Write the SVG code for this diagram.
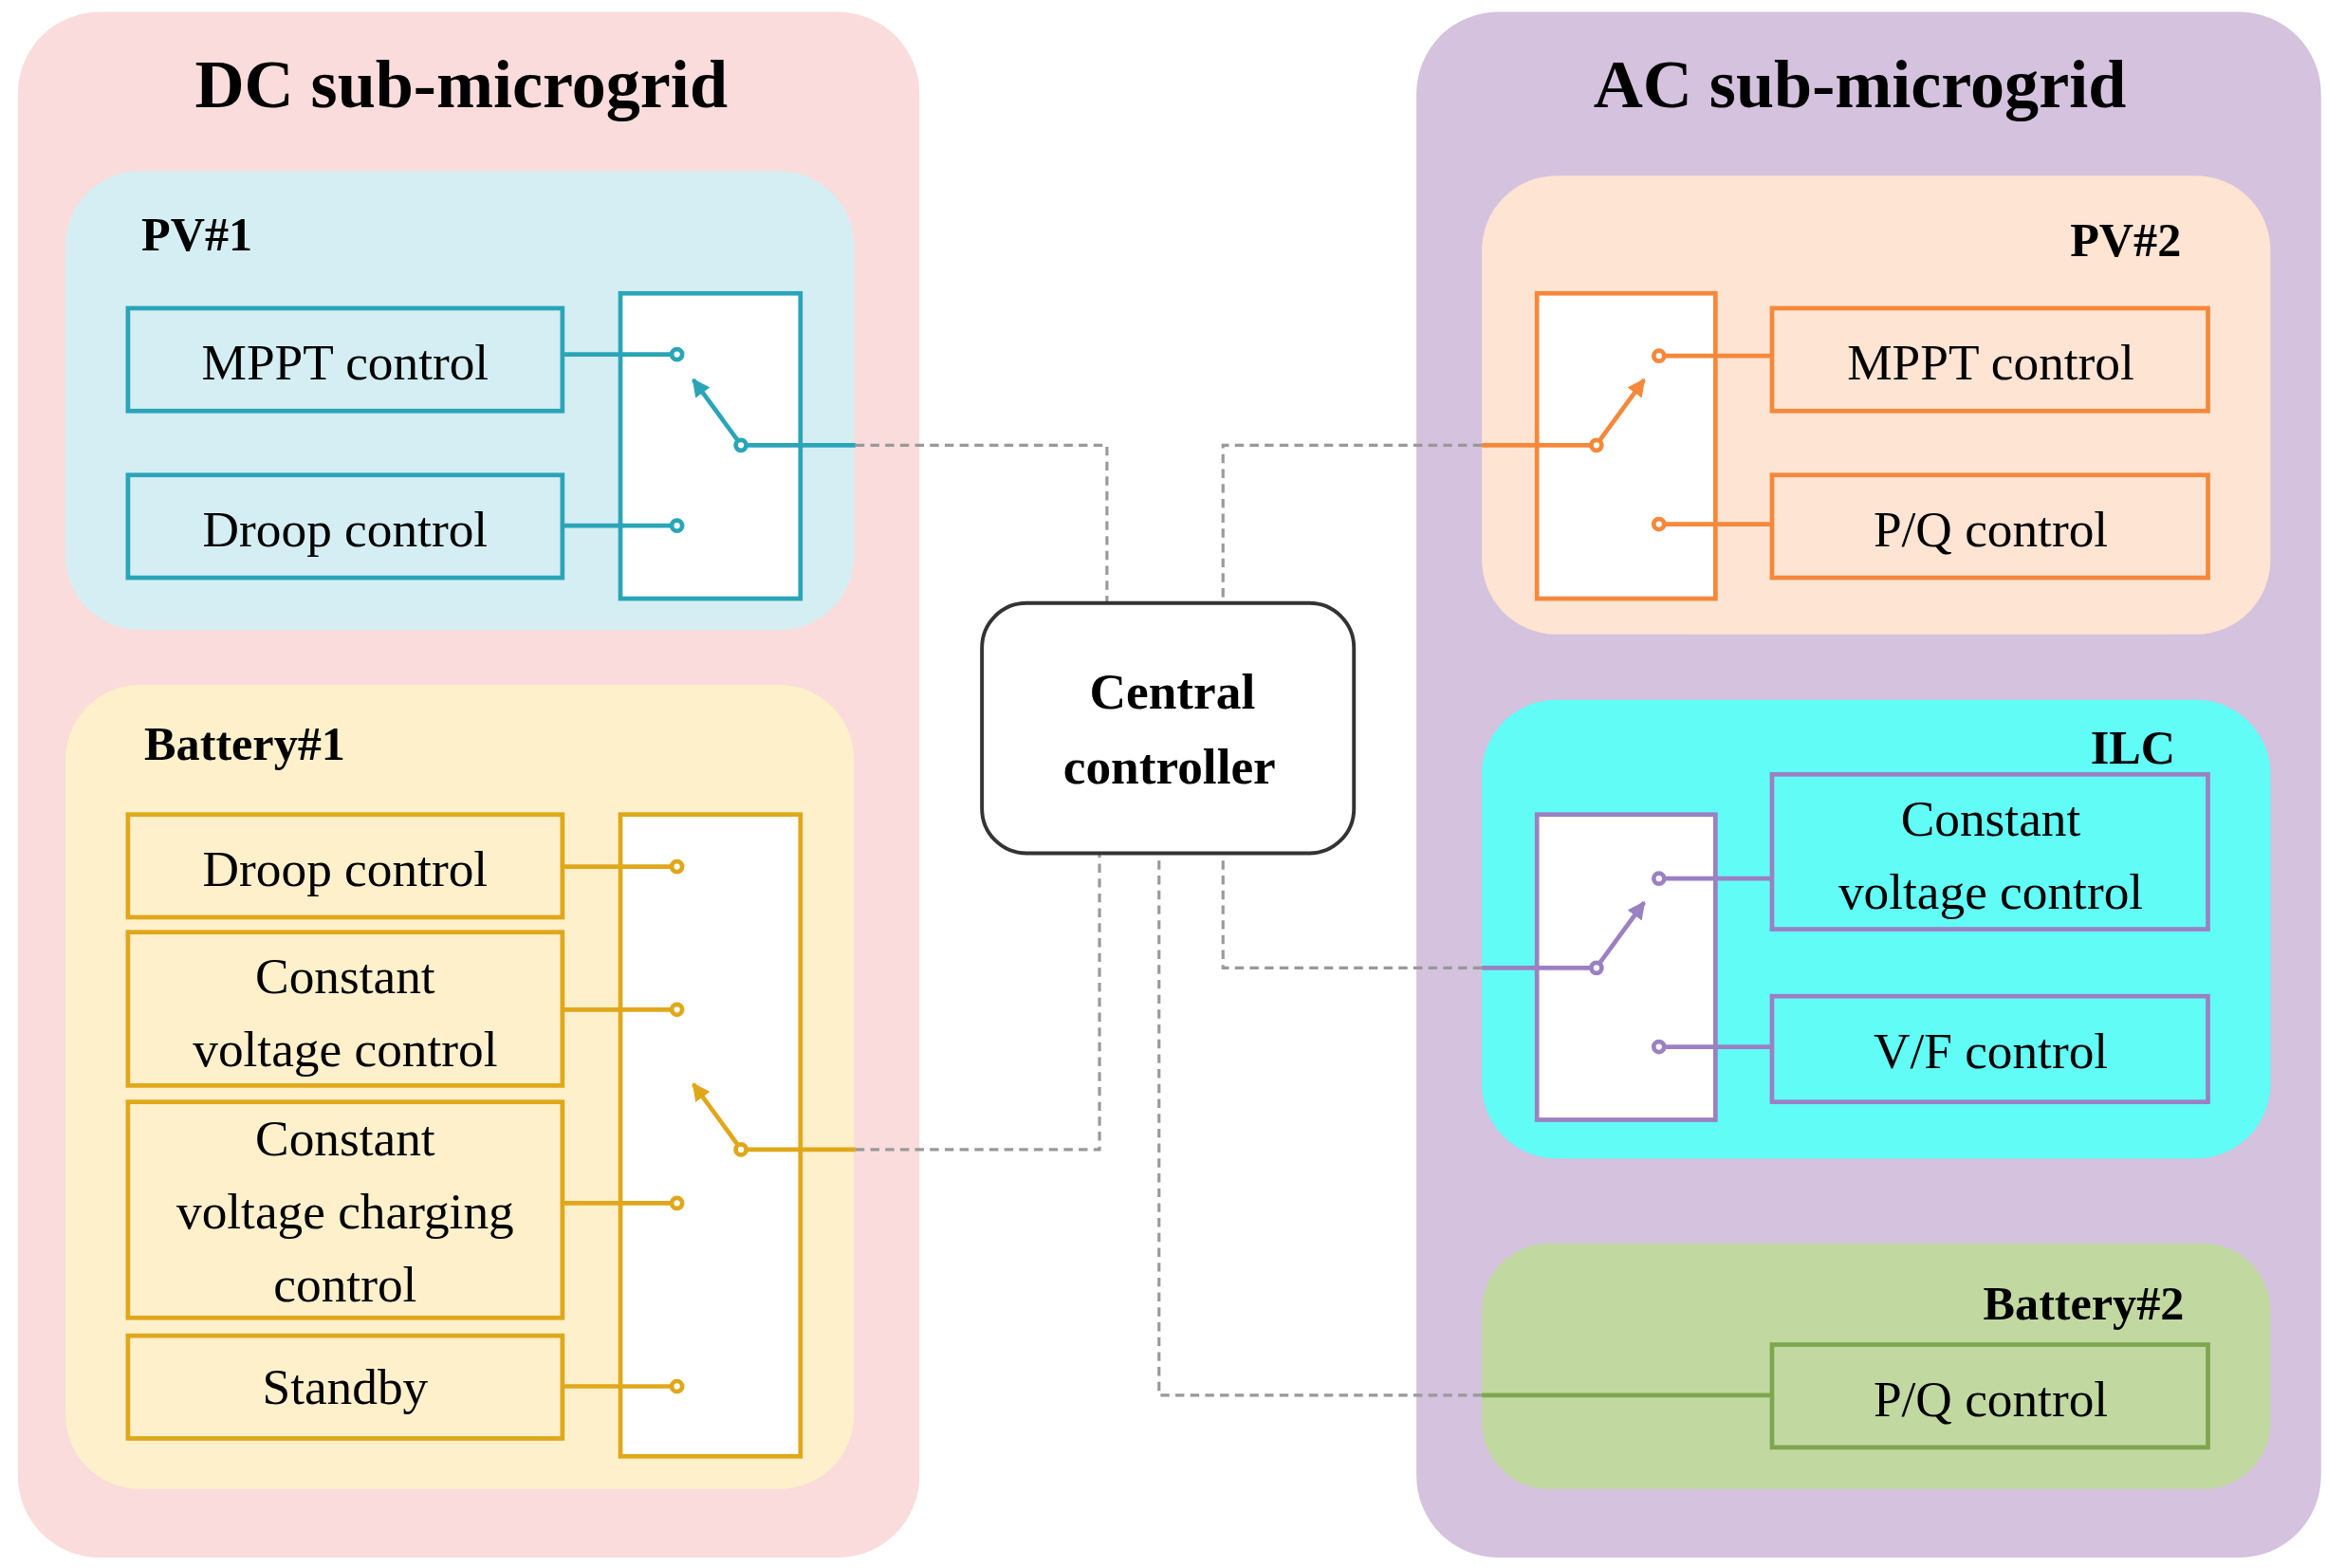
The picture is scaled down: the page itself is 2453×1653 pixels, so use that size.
<svg xmlns="http://www.w3.org/2000/svg" width="2453" height="1653" viewBox="0 0 2453 1653">
<defs>
<style>
text{font-family:"Liberation Serif","DejaVu Serif",serif;fill:#000}
.t{font-size:46px;font-weight:bold;text-anchor:middle}
.l{font-size:32px;font-weight:bold}
.b{font-size:34px;text-anchor:middle}
.d{fill:none;stroke:#999;stroke-width:2;stroke-dasharray:6,4}
.teal{stroke:#2aa5b8;stroke-width:3}
.or{stroke:#f5883a;stroke-width:3}
.go{stroke:#e0a71a;stroke-width:3}
.pu{stroke:#9b80c2;stroke-width:3}
.gr{stroke:#7ea64f;stroke-width:3}
</style>
<marker id="at" viewBox="0 0 10 10" refX="9" refY="5" markerWidth="4" markerHeight="4" orient="auto"><path d="M0,0L10,5L0,10z" fill="#2aa5b8"/></marker>
<marker id="ao" viewBox="0 0 10 10" refX="9" refY="5" markerWidth="4" markerHeight="4" orient="auto"><path d="M0,0L10,5L0,10z" fill="#f5883a"/></marker>
<marker id="ag" viewBox="0 0 10 10" refX="9" refY="5" markerWidth="4" markerHeight="4" orient="auto"><path d="M0,0L10,5L0,10z" fill="#e0a71a"/></marker>
<marker id="ap" viewBox="0 0 10 10" refX="9" refY="5" markerWidth="4" markerHeight="4" orient="auto"><path d="M0,0L10,5L0,10z" fill="#9b80c2"/></marker>
</defs>
<g transform="scale(1.5684,1.5698)" font-family="Liberation Serif, DejaVu Serif, serif">
<g id="dc">
<rect x="12" y="8" width="606" height="1038" rx="55" fill="#f9dcdb"/>
<text class="t" x="310" y="72">DC sub-microgrid</text>
</g>
<g id="ac">
<rect x="952" y="8" width="608" height="1038" rx="55" fill="#d4c2de"/>
<text class="t" x="1250" y="72">AC sub-microgrid</text>
</g>
<g id="pv1">
<rect x="44" y="115" width="530" height="308" rx="50" fill="#d5eef3"/>
<text class="l" x="95" y="168">PV#1</text>
<rect x="86" y="207" width="292" height="69" fill="none" class="teal"/>
<text class="b" x="232" y="255">MPPT control</text>
<rect x="86" y="319" width="292" height="69" fill="none" class="teal"/>
<text class="b" x="232" y="367">Droop control</text>
<rect x="417" y="197" width="121" height="205" fill="#fff" class="teal"/>
<g class="teal" fill="#fff">
<line x1="378" y1="238" x2="451" y2="238"/><circle cx="455" cy="238" r="3.5"/>
<line x1="378" y1="353" x2="451" y2="353"/><circle cx="455" cy="353" r="3.5"/>
<line x1="496" y1="296" x2="466" y2="255" marker-end="url(#at)"/>
<line x1="502" y1="299" x2="575" y2="299"/><circle cx="498" cy="299" r="3.5"/>
</g>
</g>
<g id="bat1">
<rect x="44" y="460" width="530" height="540" rx="50" fill="#fdf0cb"/>
<text class="l" x="97" y="510">Battery#1</text>
<g fill="none" class="go">
<rect x="86" y="547" width="292" height="69"/>
<rect x="86" y="626" width="292" height="103"/>
<rect x="86" y="740" width="292" height="145"/>
<rect x="86" y="897" width="292" height="69"/>
</g>
<text class="b" x="232" y="595">Droop control</text>
<text class="b" x="232" y="667">Constant</text>
<text class="b" x="232" y="716">voltage control</text>
<text class="b" x="232" y="776">Constant</text>
<text class="b" x="232" y="825">voltage charging</text>
<text class="b" x="232" y="874">control</text>
<text class="b" x="232" y="943">Standby</text>
<rect x="417" y="547" width="121" height="431" fill="#fff" class="go"/>
<g class="go" fill="#fff">
<line x1="378" y1="582" x2="451" y2="582"/><circle cx="455" cy="582" r="3.5"/>
<line x1="378" y1="678" x2="451" y2="678"/><circle cx="455" cy="678" r="3.5"/>
<line x1="378" y1="808" x2="451" y2="808"/><circle cx="455" cy="808" r="3.5"/>
<line x1="378" y1="931" x2="451" y2="931"/><circle cx="455" cy="931" r="3.5"/>
<line x1="496" y1="769" x2="466" y2="728" marker-end="url(#ag)"/>
<line x1="502" y1="772" x2="575" y2="772"/><circle cx="498" cy="772" r="3.5"/>
</g>
</g>
<g id="pv2">
<rect x="996" y="118" width="530" height="308" rx="50" fill="#fde4d3"/>
<text class="l" x="1466" y="172" text-anchor="end">PV#2</text>
<rect x="1191" y="207" width="293" height="69" fill="none" class="or"/>
<text class="b" x="1338" y="255">MPPT control</text>
<rect x="1191" y="319" width="293" height="69" fill="none" class="or"/>
<text class="b" x="1338" y="367">P/Q control</text>
<rect x="1033" y="197" width="120" height="205" fill="#fff" class="or"/>
<g class="or" fill="#fff">
<line x1="1119" y1="239" x2="1191" y2="239"/><circle cx="1115" cy="239" r="3.5"/>
<line x1="1119" y1="352" x2="1191" y2="352"/><circle cx="1115" cy="352" r="3.5"/>
<line x1="1075" y1="296" x2="1105" y2="255" marker-end="url(#ao)"/>
<line x1="1069" y1="299" x2="996" y2="299"/><circle cx="1073" cy="299" r="3.5"/>
</g>
</g>
<g id="ilc">
<rect x="996" y="470" width="530" height="308" rx="50" fill="#62fcf7"/>
<text class="l" x="1462" y="513" text-anchor="end">ILC</text>
<rect x="1191" y="520" width="293" height="104" fill="none" class="pu"/>
<text class="b" x="1338" y="561">Constant</text>
<text class="b" x="1338" y="610">voltage control</text>
<rect x="1191" y="669" width="293" height="71" fill="none" class="pu"/>
<text class="b" x="1338" y="717">V/F control</text>
<rect x="1033" y="547" width="120" height="205" fill="#fff" class="pu"/>
<g class="pu" fill="#fff">
<line x1="1119" y1="590" x2="1191" y2="590"/><circle cx="1115" cy="590" r="3.5"/>
<line x1="1119" y1="703" x2="1191" y2="703"/><circle cx="1115" cy="703" r="3.5"/>
<line x1="1075" y1="647" x2="1105" y2="606" marker-end="url(#ap)"/>
<line x1="1069" y1="650" x2="996" y2="650"/><circle cx="1073" cy="650" r="3.5"/>
</g>
</g>
<g id="bat2">
<rect x="996" y="835" width="530" height="165" rx="45" fill="#c2d8a1"/>
<text class="l" x="1468" y="886" text-anchor="end">Battery#2</text>
<rect x="1191" y="903" width="293" height="69" fill="none" class="gr"/>
<text class="b" x="1338" y="951">P/Q control</text>
<line x1="1191" y1="937" x2="996" y2="937" class="gr"/>
</g>
<g id="connectors">
<polyline class="d" points="575,299 744,299 744,405"/>
<polyline class="d" points="575,772 739,772 739,573"/>
<polyline class="d" points="996,299 822,299 822,405"/>
<polyline class="d" points="996,650 822,650 822,573"/>
<polyline class="d" points="996,937 779,937 779,573"/>
</g>
<g id="central">
<rect x="660" y="405" width="250" height="168" rx="30" fill="#fff" stroke="#333" stroke-width="2.5"/>
<text class="b" x="788" y="476" font-weight="bold">Central</text>
<text class="b" x="786" y="526" font-weight="bold">controller</text>
</g>
</g>
</svg>
